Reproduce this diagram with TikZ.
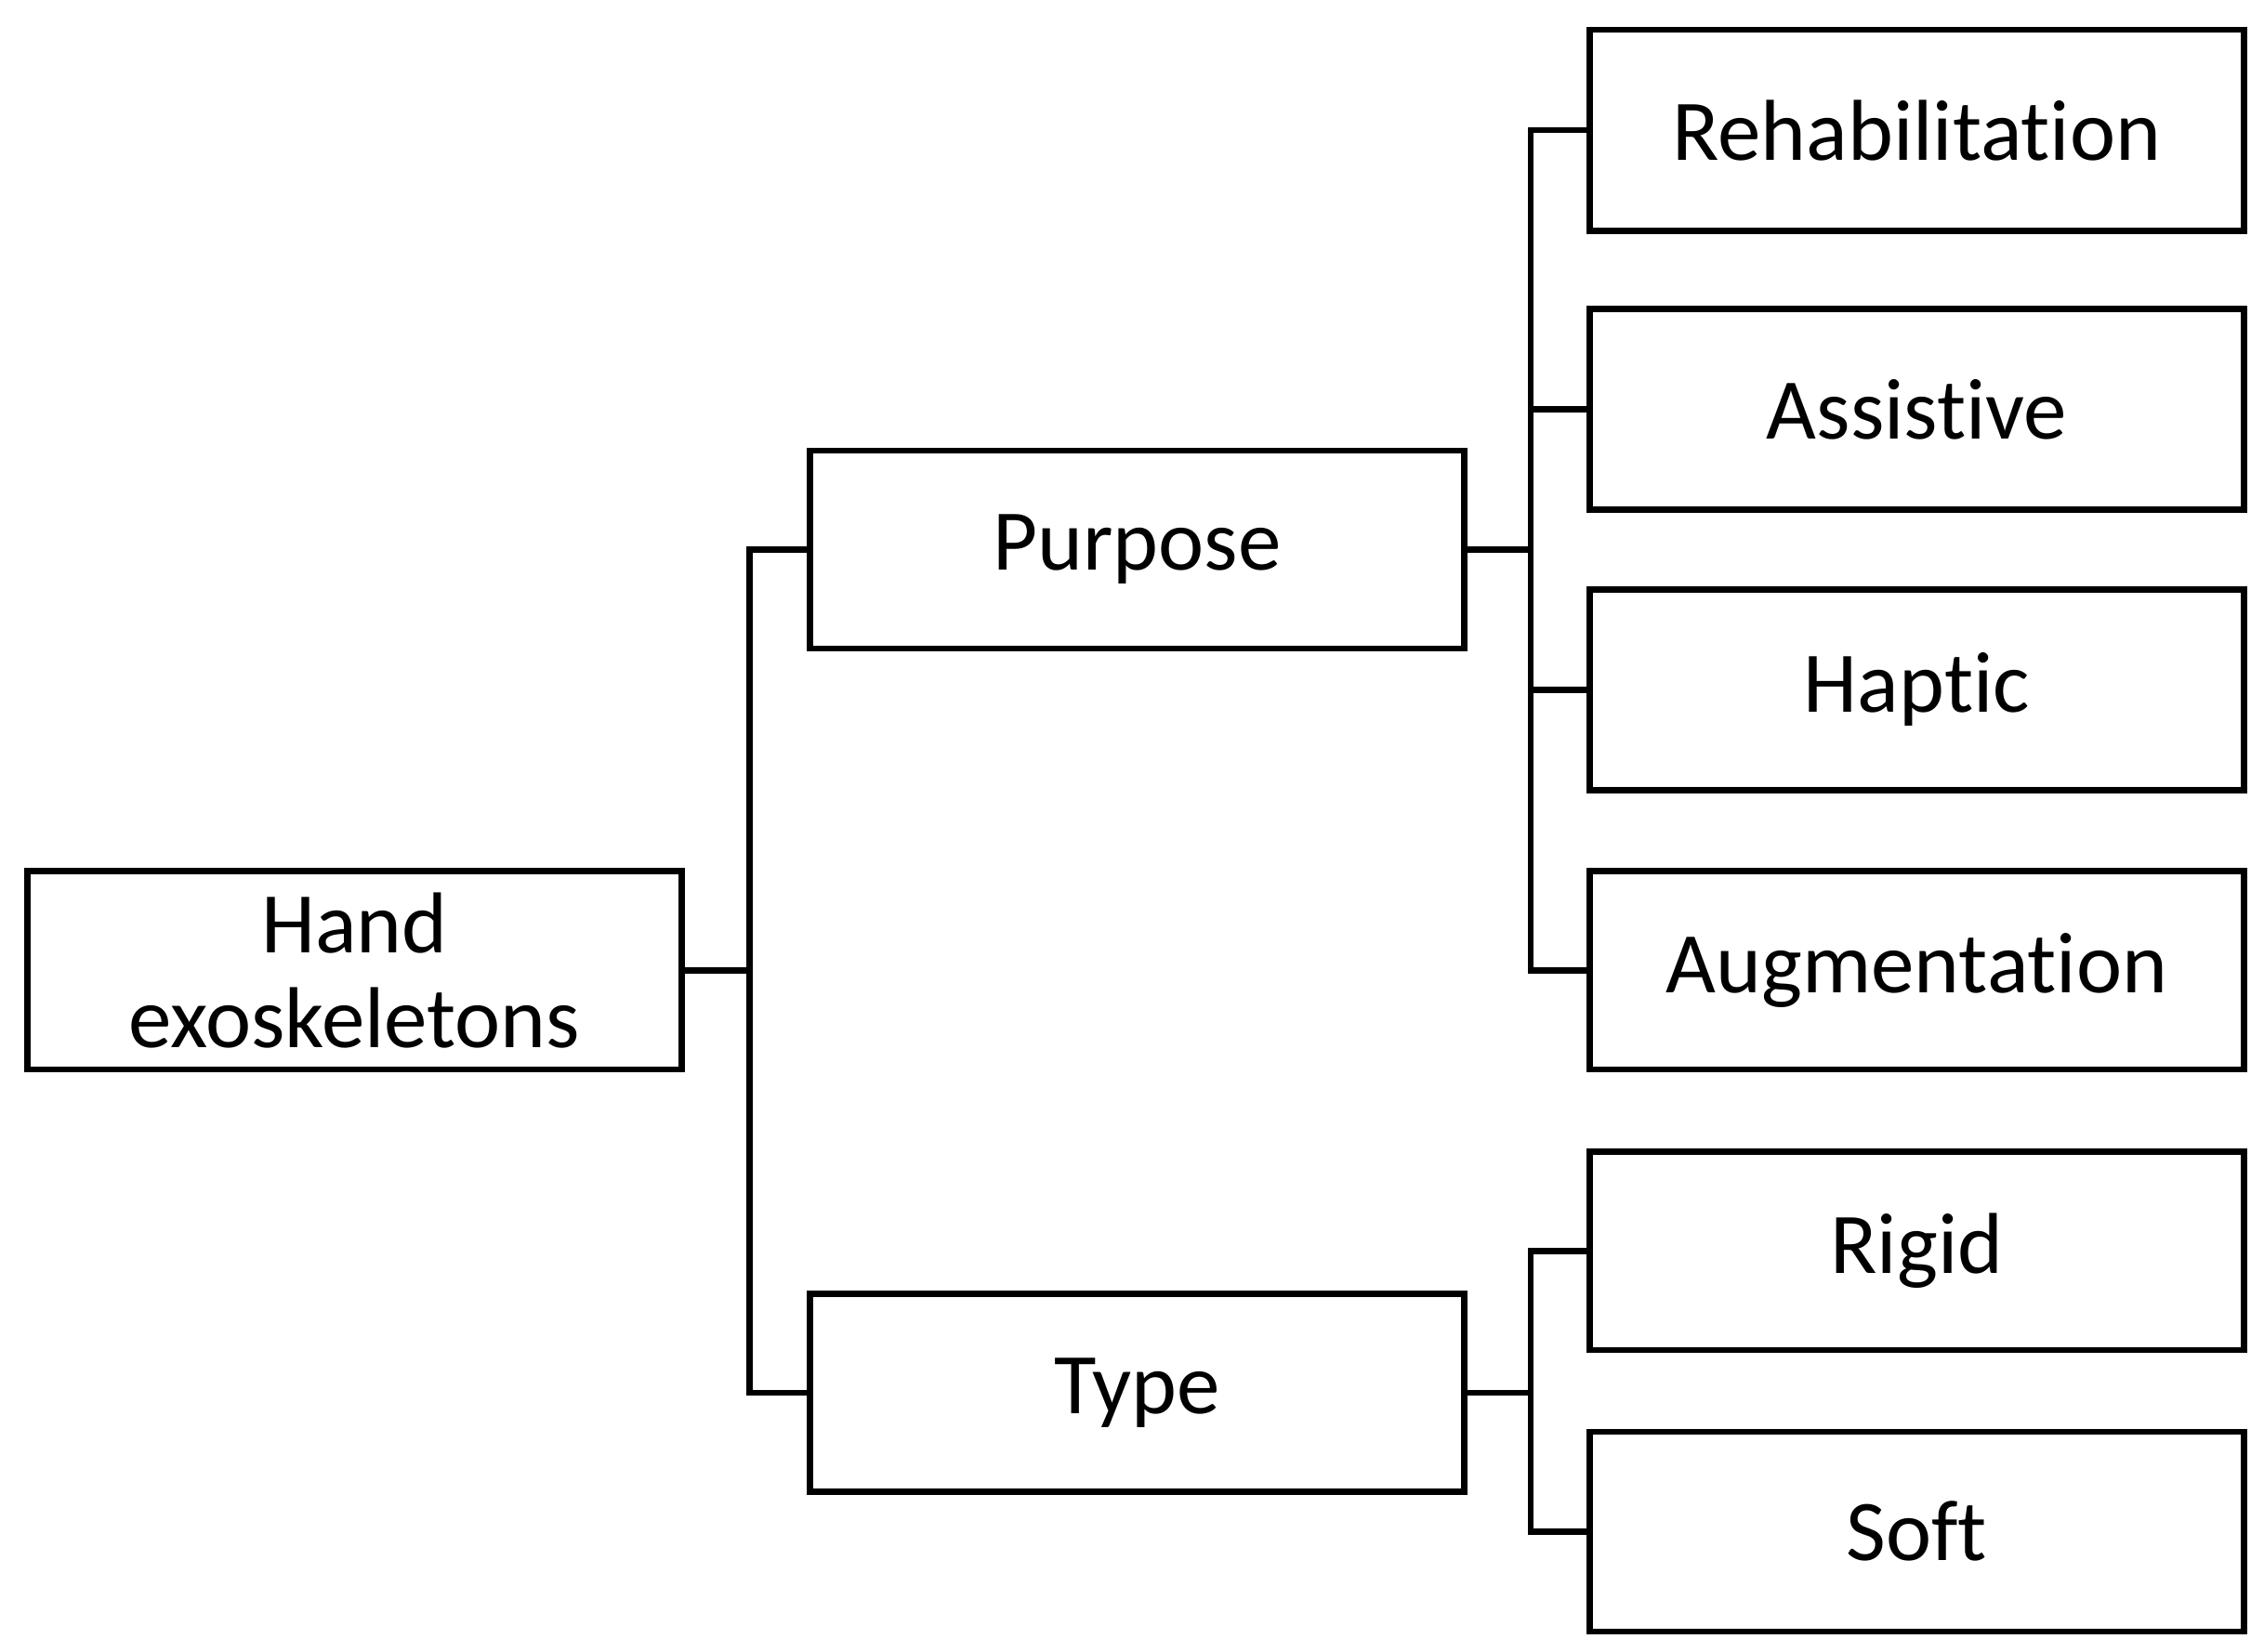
\documentclass[tikz,border=0pt]{standalone}
\usepackage{fontspec}
\setmainfont{Carlito}[Ligatures={NoCommon}]
\usetikzlibrary{positioning}
\tikzset{
  box/.style={rectangle, draw, line width=1.2pt, minimum width=4.52cm, minimum height=1.37cm, inner sep=2pt, align=center, font=\fontsize{17}{18.5}\selectfont},
  link/.style={draw, line width=1.2pt}
}
\begin{document}
\begin{tikzpicture}[x=0.01cm, y=-0.01cm]
  \useasboundingbox (0,0) rectangle (1565,1142);
  % Place nodes
  \node [box] (hand) at (245,671) {Hand\\exoskeletons};
  \node [box] (purpose) at (786,380) {Purpose};
  \node [box] (type) at (786,963) {Type};
  \node [box, minimum height=1.39cm] (rehab) at (1325,90) {Rehabilitation};
  \node [box, minimum height=1.39cm] (assist) at (1325,283) {Assistive};
  \node [box, minimum height=1.39cm] (haptic) at (1325,477) {Haptic};
  \node [box] (augment) at (1325,671) {Augmentation};
  \node [box] (rigid) at (1325,865) {Rigid};
  \node [box, minimum height=1.38cm] (soft) at (1325,1059) {Soft};
  % Draw edges
  \path [link] (hand.east) -- ++(45,0) coordinate (j1);
  \path [link] (j1) |- (purpose.west);
  \path [link] (j1) |- (type.west);
  \path [link] (purpose.east) -- ++(44,0) coordinate (j2);
  \foreach \n in {rehab,assist,haptic,augment}
    \path [link] (j2) |- (\n.west);
  \path [link] (type.east) -- ++(44,0) coordinate (j3);
  \foreach \n in {rigid,soft}
    \path [link] (j3) |- (\n.west);
\end{tikzpicture}
\end{document}
